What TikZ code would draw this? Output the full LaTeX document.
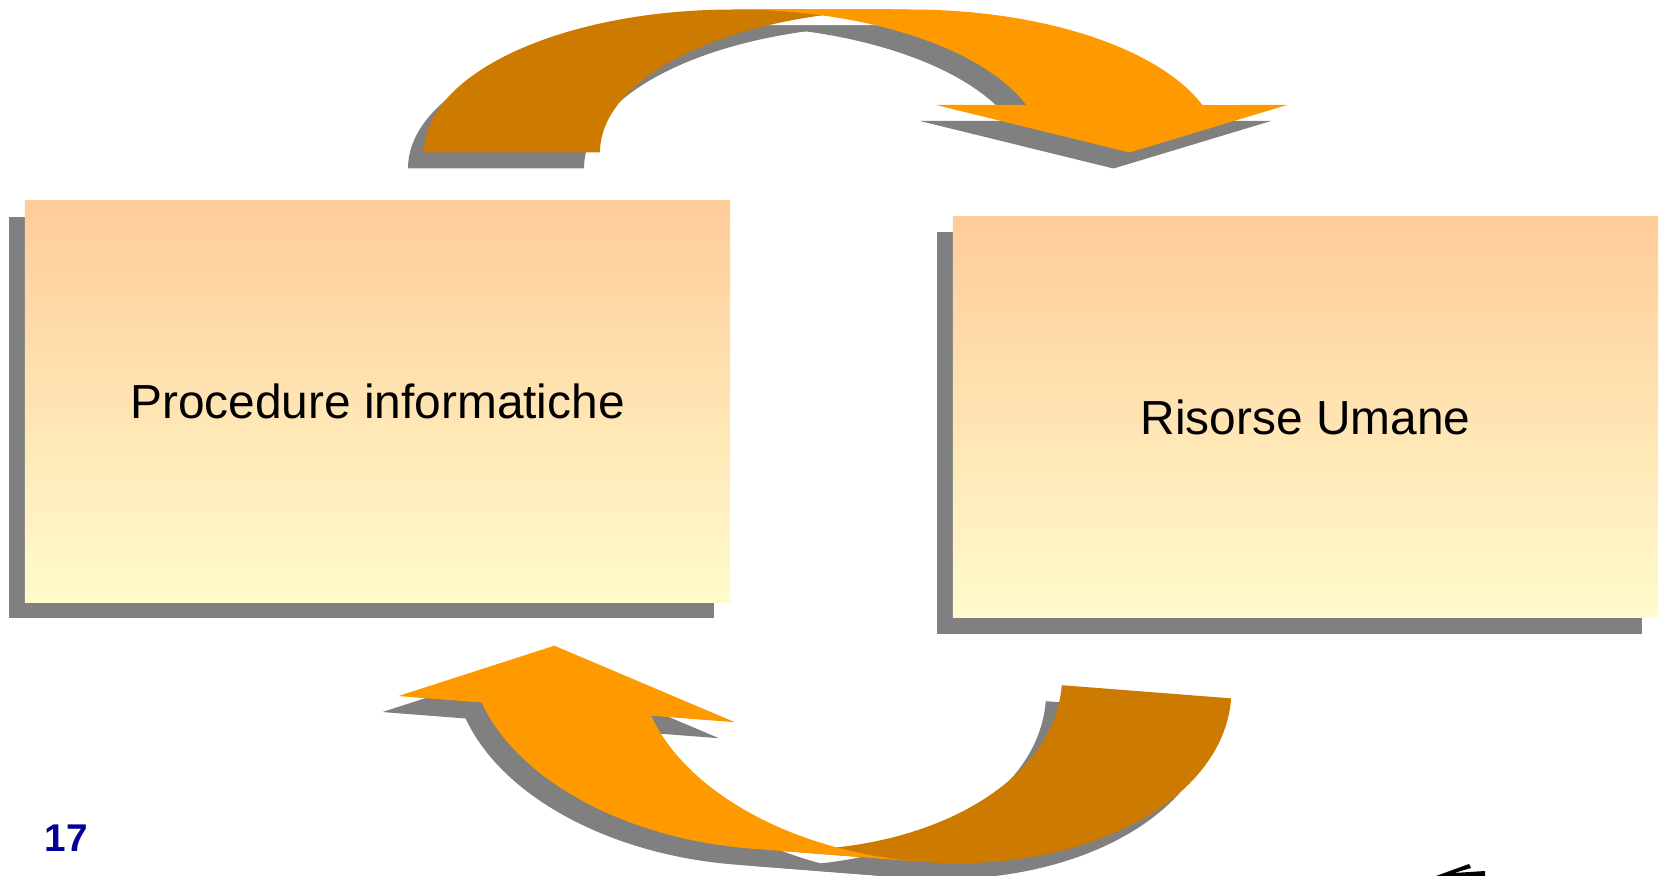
\documentclass[tikz,border=0pt]{standalone}
\usepackage{fontspec}
\setmainfont{Liberation Sans}

\definecolor{boxtop}{HTML}{FFCC99}
\definecolor{boxbottom}{HTML}{FFFBCC}
\definecolor{arrowlight}{HTML}{FF9900}
\definecolor{arrowdark}{HTML}{CC7A00}
\definecolor{shadowgray}{HTML}{808080}
\definecolor{pagenum}{HTML}{000099}

% Upper curved arrow (screen units, y pointing down)
\newcommand\upperDarkPath{(424,152.5) arc[start angle=180,end angle=270,x radius=310,y radius=143]
  -- (910,9.5) arc[start angle=270,end angle=180,x radius=310,y radius=143] -- cycle}
\newcommand\upperLightPath{(734,9.5) -- (910,9.5)
  arc[start angle=270,end angle=340.6,x radius=310,y radius=143]
  -- (1287,105) -- (1129.5,152.5) -- (936,105) -- (1026.4,105)
  arc[start angle=340.6,end angle=270,x radius=310,y radius=143] -- cycle}

% Lower curved arrow, drawn in its own tilted frame (origin at the arrow tip)
\newcommand\lowerDarkPath{(509,0) arc[start angle=0,end angle=90,x radius=297,y radius=187]
  -- (382,187) arc[start angle=90,end angle=0,x radius=297,y radius=187] -- cycle}
\newcommand\lowerLightPath{(212,187) -- (382,187)
  arc[start angle=90,end angle=160.54,x radius=297,y radius=187]
  -- (186.1,62.3) -- (0,0) -- (-151.6,62.3) -- (-68.03,62.3)
  arc[start angle=160.54,end angle=90,x radius=297,y radius=187] -- cycle}

\tikzset{
  infobox/.style={rectangle, minimum width=7.05cm, minimum height=4.01cm,
    inner sep=0pt, top color=boxtop, bottom color=boxbottom,
    font=\fontsize{13.6}{16}\selectfont, text=black},
  lowerframe/.style={shift={(554.3,645.7)}, rotate=-4.45}
}

\begin{document}
\begin{tikzpicture}[x=0.01cm,y=-0.01cm]
\useasboundingbox (0,0) rectangle (1663,876);
\clip (0,0) rectangle (1663,876);

% box shadows
\fill[shadowgray] (9,217) rectangle (714,618);
\fill[shadowgray] (936.5,232) rectangle (1642,633.5);

% boxes
\node[infobox] (proc) at (377.5,401.5) {Procedure informatiche};
\node[infobox] (hr) at (1305.5,417) {Risorse Umane};

% upper arrow: shadow, back band, front band with head
\begin{scope}[shift={(-16,16)}]
  \fill[shadowgray] \upperDarkPath;
  \fill[shadowgray] \upperLightPath;
\end{scope}
\fill[arrowdark] \upperDarkPath;
\fill[arrowlight] \upperLightPath;

% lower arrow: shadow, back band, front band with head
\begin{scope}[shift={(-16,16)}]
  \begin{scope}[lowerframe]
    \fill[shadowgray] \lowerDarkPath;
    \fill[shadowgray] \lowerLightPath;
  \end{scope}
\end{scope}
\begin{scope}[lowerframe]
  \fill[arrowdark] \lowerDarkPath;
  \fill[arrowlight] \lowerLightPath;
\end{scope}

% page number
\node[font=\bfseries\fontsize{11}{13}\selectfont, text=pagenum] (pageno) at (66.5,838) {17};

% corner logo fragment
\fill[black] (1436,876) -- (1469,864) -- (1471,868) -- (1454,873) -- (1485,871) -- (1485,876) -- cycle;
\end{tikzpicture}
\end{document}
